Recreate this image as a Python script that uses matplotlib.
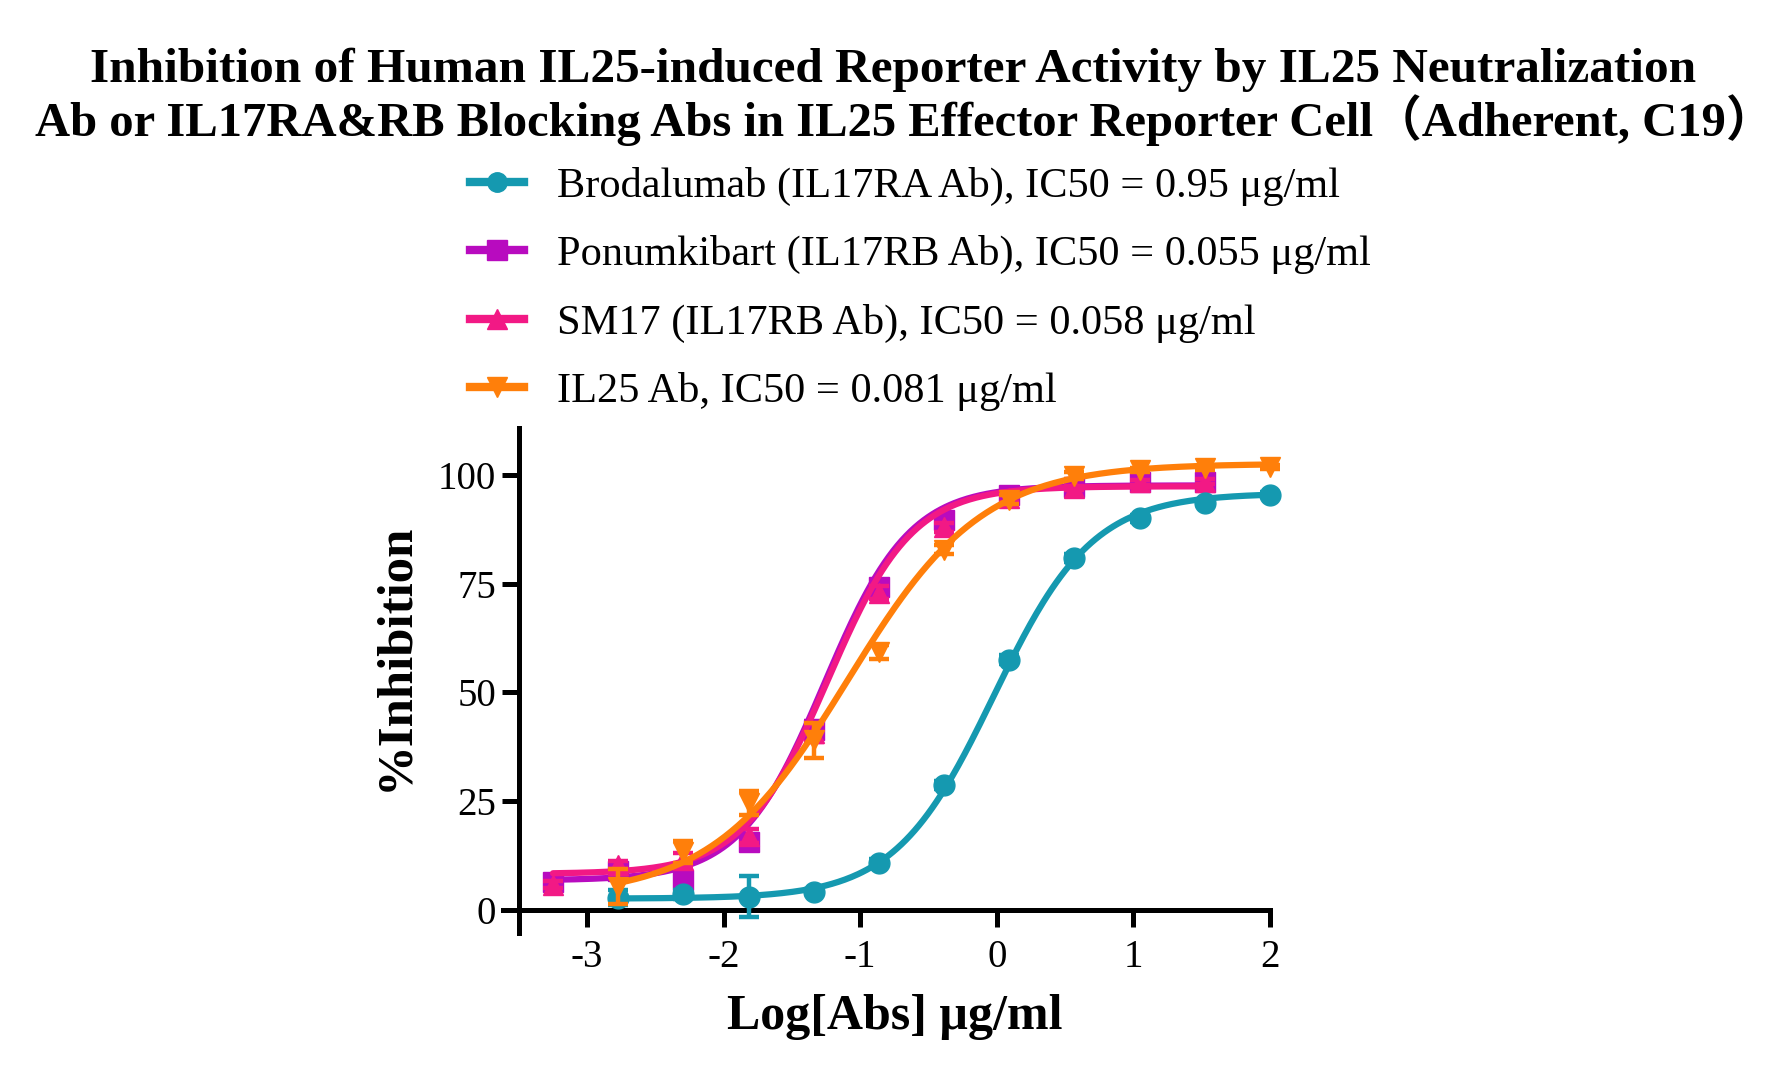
import numpy as np
import matplotlib
matplotlib.use("Agg")
import matplotlib.pyplot as plt
from matplotlib.lines import Line2D

plt.rcParams['font.family'] = ['Liberation Serif', 'Noto Sans CJK SC', 'DejaVu Sans']

# ---------------- data ----------------
log_x_11 = [2.0, 1.523, 1.046, 0.569, 0.092, -0.385, -0.863, -1.340, -1.817, -2.294, -2.771]
log_x_rb = [1.523, 1.046, 0.569, 0.092, -0.385, -0.863, -1.340, -1.817, -2.294, -2.771, -3.248]

brod_y = [95.5, 93.5, 90.1, 80.9, 57.5, 28.7, 10.8, 4.2, 3.0, 3.6, 2.8]
brod_err = [0.5, 0.5, 0.8, 1.0, 1.0, 1.0, 0.8, 0.6, 4.7, 1.0, 1.7]

ponu_y = [98.5, 98.5, 97.3, 95.5, 89.7, 74.3, 41.4, 15.6, 6.9, 9.0, 6.4]
ponu_err = [0.5, 0.5, 0.5, 0.8, 1.0, 1.5, 2.0, 1.5, 3.0, 1.0, 0.8]

sm17_y = [98.5, 98.3, 97.0, 94.7, 88.0, 72.9, 40.7, 17.0, 11.5, 10.3, 5.8]
sm17_err = [0.5, 0.5, 0.5, 0.8, 1.0, 1.5, 2.0, 1.5, 1.5, 1.0, 0.8]

il25_y = [101.8, 101.6, 101.2, 99.8, 94.3, 82.8, 59.3, 39.0, 24.6, 13.3, 5.3]
il25_err = [0.5, 0.5, 0.5, 0.8, 1.0, 1.0, 1.5, 4.0, 2.8, 2.5, 4.0]

# 4PL fit parameters: bottom, top, IC50 (ug/ml), hill slope
brod_fit = [2.6, 95.8, 0.95, 1.2]
ponu_fit = [6.8, 97.6, 0.055, 1.4]
sm17_fit = [8.3, 97.4, 0.058, 1.4]
il25_fit = [3.0, 102.6, 0.081, 0.88]

labels = ["Brodalumab (IL17RA Ab), IC50 = 0.95 \u03bcg/ml",
          "Ponumkibart (IL17RB Ab), IC50 = 0.055 \u03bcg/ml",
          "SM17 (IL17RB Ab), IC50 = 0.058 \u03bcg/ml",
          "IL25 Ab, IC50 = 0.081 \u03bcg/ml"]
colors = ["#1599b0", "#b80bbf", "#f21985", "#ff7f0a"]
markers = ["o", "s", "^", "v"]

x_ticks = [-3, -2, -1, 0, 1, 2]
y_ticks = [0, 25, 50, 75, 100]

title1 = "Inhibition of Human IL25-induced Reporter Activity by IL25 Neutralization"
title2 = "Ab or IL17RA&RB Blocking Abs in IL25 Effector Reporter Cell\uff08Adherent, C19\uff09"


def four_pl(x, p):
    b, t, ic50, h = p
    return b + (t - b) / (1.0 + 10 ** ((np.log10(ic50) - x) * h))


W, H = 1788, 1080
fig = plt.figure(figsize=(W / 100, H / 100), dpi=100)

# axes in pixel coords
left_px, right_px, top_px, bot_px = 503, 1270, 428, 933
ax = fig.add_axes([left_px / W, 1 - bot_px / H, (right_px - left_px) / W, (bot_px - top_px) / H])
ax.set_xlim(-3.614, 2.0)
ax.set_ylim(-5.3, 110.8)

series = [
    (log_x_11, brod_y, brod_err, brod_fit),
    (log_x_rb, ponu_y, ponu_err, ponu_fit),
    (log_x_rb, sm17_y, sm17_err, sm17_fit),
    (log_x_11, il25_y, il25_err, il25_fit),
]
zb = [5, 3, 4, 6]
handles = []
for i, (xs, ys, es, fit) in enumerate(series):
    c = colors[i]
    xx = np.linspace(min(xs), max(xs), 300)
    ax.plot(xx, four_pl(xx, fit), color=c, lw=4.5, zorder=zb[i], solid_capstyle='round', clip_on=False)
    ax.errorbar(xs, ys, yerr=es, fmt='none', ecolor=c, elinewidth=3.2,
                capsize=7, capthick=3.2, zorder=zb[i] + 0.2, clip_on=False)
    ax.plot(xs, ys, linestyle='none', marker=markers[i], color=c, ms=15,
            zorder=zb[i] + 0.4, clip_on=False)
    handles.append(Line2D([], [], color=c, lw=6, marker=markers[i], ms=14))

# spines Prism-style
for s in ['top', 'right']:
    ax.spines[s].set_visible(False)
ax.spines['left'].set_position(('data', -3.5))
ax.spines['bottom'].set_position(('data', 0))
for s in ['left', 'bottom']:
    ax.spines[s].set_linewidth(3.6)
ax.set_xticks(x_ticks)
ax.set_yticks(y_ticks)
ax.set_xticklabels([str(v) for v in x_ticks])
ax.set_yticklabels([str(v) for v in y_ticks])
ax.tick_params(axis='both', direction='out', length=12, width=3.6, labelsize=28)
ax.tick_params(axis='x', pad=9)
ax.tick_params(axis='y', pad=4)
ax.patch.set_visible(False)

# labels
fig.text(395 / W, 1 - 657 / H, "%Inhibition", rotation=90, ha='center', va='center',
         fontsize=36.5, fontweight='bold')
fig.text(895 / W, 1 - 1029 / H, "Log[Abs] \u03bcg/ml", ha='center', va='baseline',
         fontsize=36, fontweight='bold')

# title
fig.text(893 / W, 1 - 82 / H, title1, ha='center', va='baseline', fontsize=35.5, fontweight='bold')
fig.text(905 / W, 1 - 136 / H, title2, ha='center', va='baseline', fontsize=35, fontweight='bold')

# legend
leg = fig.legend(handles, labels, loc='upper left', bbox_to_anchor=(470 / W, 1 - 167 / H),
                 frameon=False, fontsize=30.5, handlelength=1.27, handletextpad=0.78,
                 labelspacing=0.69, borderpad=0, borderaxespad=0)

fig.savefig("out.png", dpi=100)
